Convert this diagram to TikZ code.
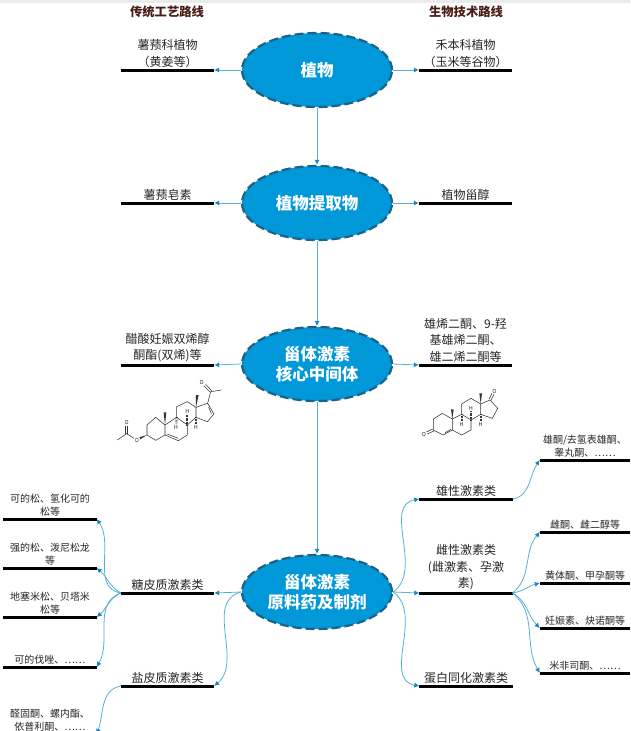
\documentclass[tikz,border=0pt]{standalone}
\usepackage{fontspec}
\setmainfont{Noto Sans CJK SC}
\usetikzlibrary{arrows.meta,shapes.geometric}

\definecolor{hubblue}{HTML}{0098D8}
\definecolor{hubedge}{HTML}{1C6288}
\definecolor{linkblue}{HTML}{55B0D8}
\definecolor{tipblue}{HTML}{1487C0}
\definecolor{routered}{HTML}{4A1C16}

\tikzset{
	hub/.style={ellipse, fill=hubblue, draw=hubedge, line width=2.2pt, dash pattern=on 9pt off 4pt,
		minimum width=150pt, minimum height=74pt, inner sep=0pt, align=center, text=white,
		font=\fontsize{16.5}{20.5}\selectfont\bfseries},
	topic/.style={anchor=south, text width=93pt, align=center, inner xsep=0pt, inner ysep=2.5pt,
		text=black!85, font=\fontsize{12}{16.5}\selectfont,
		append after command={(\tikzlastnode.south west) edge[bar] (\tikzlastnode.south east)}},
	leaf/.style={topic, font=\fontsize{10}{13.3}\selectfont},
	bar/.style={line width=3pt, black},
	link/.style={draw=linkblue, line width=0.8pt, -{Latex[length=5pt,width=5pt,color=tipblue]}},
	route/.style={text=routered, font=\fontsize{12.3}{14}\selectfont\bfseries},
	bond/.style={line width=0.55pt, black!80},
	hashbond/.style={line width=2.2pt, black!80, dash pattern=on 0.5pt off 0.9pt},
	atom/.style={inner sep=0pt, text=black!85, font=\fontsize{5.5}{6}\selectfont}
}

\begin{document}
\begin{tikzpicture}[x=1pt, y=-1pt]
	\useasboundingbox (0,0) rectangle (630,731);
	\fill[black!8] (0,0) rectangle (630,3);

	% Route titles
	\node[route] (oldroute) at (167,12) {传统工艺路线};
	\node[route] (bioroute) at (466,12) {生物技术路线};

	% Central column
	\node[hub] (plant) at (317,70) {植物};
	\node[hub] (extract) at (317,203) {植物提取物};
	\node[hub] (core) at (317,364) {甾体激素\\核心中间体};
	\node[hub] (drug) at (317,592) {甾体激素\\原料药及制剂};

	% Left and right of the column
	\node[topic] (yam) at (167.5,70) {薯蓣科植物\\（黄姜等）};
	\node[topic] (grass) at (465.5,70) {禾本科植物\\（玉米等谷物）};
	\node[topic] (saponin) at (167.5,203) {薯蓣皂素};
	\node[topic] (sterol) at (465.5,203) {植物甾醇};
	\node[topic] (diene) at (167.5,365) {醋酸妊娠双烯醇\\酮酯(双烯)等};
	\node[topic] (ad) at (465.5,365) {雄烯二酮、9-羟\\基雄烯二酮、\\雄二烯二酮等};

	% Drug classes
	\node[topic] (gluco) at (167.5,593) {糖皮质激素类};
	\node[topic] (mineral) at (167.5,686) {盐皮质激素类};
	\node[topic] (male) at (466,499) {雄性激素类};
	\node[topic] (female) at (466,593) {雌性激素类\\(雌激素、孕激\\素)};
	\node[topic] (anabolic) at (466,686) {蛋白同化激素类};

	% Products, left
	\node[leaf] (cortisone) at (50,519) {可的松、氢化可的\\松等};
	\node[leaf] (prednisone) at (50,568) {强的松、泼尼松龙\\等};
	\node[leaf] (dexa) at (50,617) {地塞米松、贝塔米\\松等};
	\node[leaf] (deflaz) at (50,667) {可的伐唑、……};
	\node[leaf] (aldo) at (50,734) {醛固酮、螺内酯、\\依普利酮、……};

	% Products, right
	\node[leaf, text width=90pt] (andro) at (585,460) {雄酮/去氢表雄酮、\\睾丸酮、……};
	\node[leaf, text width=90pt] (estrone) at (585,532) {雌酮、雌二醇等};
	\node[leaf, text width=90pt] (proges) at (585,583) {黄体酮、甲孕酮等};
	\node[leaf, text width=90pt] (gesta) at (585,628) {妊娠素、炔诺酮等};
	\node[leaf, text width=90pt] (mifep) at (585,673) {米非司酮、……};

	% Connectors
	\draw[link] (plant) -- (extract);
	\draw[link] (extract) -- (core);
	\draw[link] (core) -- (drug);
	\draw[link] (plant.west) -- (yam.south east);
	\draw[link] (plant.east) -- (grass.south west);
	\draw[link] (extract.west) -- (saponin.south east);
	\draw[link] (extract.east) -- (sterol.south west);
	\draw[link] (core.west) -- (diene.south east);
	\draw[link] (core.east) -- (ad.south west);

	\draw[link] (drug.west) -- (gluco.south east);
	\draw[link] (drug.west) to[out=195,in=40] (mineral.south east);
	\draw[link] (drug.east) to[out=35,in=190] (male.south west);
	\draw[link] (drug.east) -- (female.south west);
	\draw[link] (drug.east) to[out=-35,in=170] (anabolic.south west);

	\foreach \prod/\o/\i in {cortisone/170/-55,prednisone/150/-40,dexa/205/40,deflaz/200/60}
		\draw[link] (gluco.south west) to[out=\o,in=\i] (\prod.south east);
	\draw[link] (mineral.south west) to[out=190,in=70] (aldo.south east);
	\draw[link] (male.south east) to[out=10,in=-125] (andro.south west);
	\foreach \prod/\o/\i in {estrone/40/-130,proges/10/-165,gesta/-30/135,mifep/-40/120}
		\draw[link] (female.south east) to[out=\o,in=\i] (\prod.south west);

	% Pregnadienolone acetate
	\begin{scope}[shift={(110,375)}, scale=0.3333]
		\draw[bond] (111,180) -- (111,150) -- (137,127) -- (165,150) -- (165,180) -- (137,196) -- cycle;
		\draw[bond] (165,150) -- (200,127) -- (232,150) -- (232,180) -- (205,197) -- (165,180);
		\draw[bond] (172,177) -- (205,190);
		\draw[bond] (200,127) -- (200,95) -- (232,80) -- (258,97) -- (258,127) -- (232,150);
		\draw[bond] (258,97) -- (293,85) -- (312,117) -- (292,140) -- (258,127);
		\draw[bond] (296,96) -- (304,116);
		\draw[bond] (293,85) -- (302,50) -- (335,45);
		\draw[bond] (299,50) -- (281,32);
		\draw[bond] (305,47) -- (287,28);
		\draw[bond] (72,190) -- (50,176) -- (22,195);
		\draw[bond] (47,176) -- (47,152);
		\draw[bond] (53,176) -- (53,152);
		\fill[black!80] (111,180) -- (88,187) -- (91,193) -- cycle;
		\fill[black!80] (165,150) -- (161,112) -- (169,112) -- cycle;
		\fill[black!80] (258,97) -- (258,60) -- (266,60) -- cycle;
		\draw[hashbond] (200,127) -- (199,148);
		\draw[hashbond] (232,150) -- (232,118);
		\draw[hashbond] (258,127) -- (258,148);
		\node[atom] (oa) at (81,195) {O};
		\node[atom] (ob) at (50,143) {O};
		\node[atom] (oc) at (275,22) {O};
		\node[atom] (ha) at (198,158) {H};
		\node[atom] (hb) at (232,109) {H};
		\node[atom] (hc) at (258,158) {H};
	\end{scope}

	% Androstenedione
	\begin{scope}[shift={(415,380)}, scale=0.3333]
		\draw[bond] (55,150) -- (55,117) -- (82,100) -- (112,117) -- (112,150) -- (84,165) -- cycle;
		\draw[bond] (90,158) -- (108,148);
		\draw[bond] (112,117) -- (140,103) -- (168,120) -- (168,150) -- (140,165) -- (112,150);
		\draw[bond] (140,103) -- (140,72) -- (168,55) -- (197,72) -- (197,103) -- (168,120);
		\draw[bond] (197,72) -- (225,60) -- (248,85) -- (232,115) -- (197,103);
		\draw[bond] (53,147) -- (34,156);
		\draw[bond] (57,153) -- (36,162);
		\draw[bond] (222,58) -- (231,40);
		\draw[bond] (228,61) -- (237,43);
		\fill[black!80] (112,117) -- (108,88) -- (116,88) -- cycle;
		\fill[black!80] (197,72) -- (193,40) -- (201,40) -- cycle;
		\draw[hashbond] (140,103) -- (140,124);
		\draw[hashbond] (168,120) -- (168,94);
		\draw[hashbond] (197,103) -- (197,124);
		\node[atom] (od) at (27,162) {O};
		\node[atom] (oe) at (238,33) {O};
		\node[atom] (hd) at (140,134) {H};
		\node[atom] (he) at (168,85) {H};
		\node[atom] (hf) at (197,134) {H};
	\end{scope}
\end{tikzpicture}
\end{document}
